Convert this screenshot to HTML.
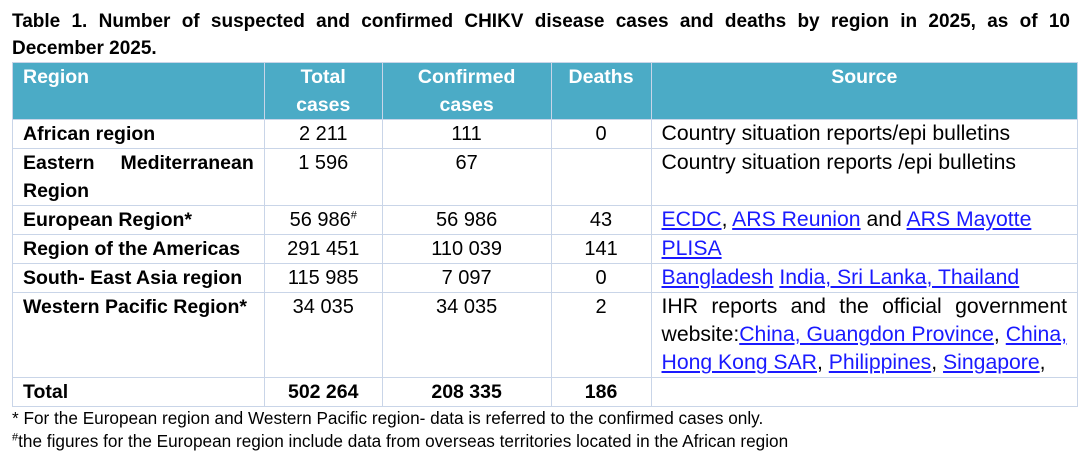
<!DOCTYPE html>
<html><head><meta charset="utf-8"><style>
body{margin:0;width:1088px;height:456px;background:#fff;font-family:"Liberation Sans",sans-serif;color:#000;position:relative;overflow:hidden}
.t{position:absolute;left:12px;width:1058px;font-weight:bold;font-size:19px;line-height:27px}
.t1{top:8px;text-align:justify;text-align-last:justify}
.t2{top:35px}
table{position:absolute;left:12px;top:62px;border-collapse:collapse;width:1066px;font-size:20px;line-height:28px}
td,th{border:1.5px solid #c9d5e8;padding:0 10px;vertical-align:top;box-sizing:border-box}
th{background:#4babc6;color:#fff;font-weight:bold;height:56px;font-size:19.5px}
th.l,td.l{text-align:left}
tr.s td{height:29px}
td{text-align:center}
td.b{font-weight:bold;text-align:left;font-size:19.5px}
td.src{font-size:21.2px;text-align:left}
.jl{display:block;text-align:justify;text-align-last:justify}
a{color:#1a1aff;text-decoration:underline}
.f{position:absolute;left:12px;font-size:17.2px}
sup{font-size:11px;line-height:0}
</style></head><body>
<div class="t t1">Table 1. Number of suspected and confirmed CHIKV disease cases and deaths by region in 2025, as of 10</div>
<div class="t t2">December 2025.</div>
<table>
<colgroup><col style="width:252px"><col style="width:118px"><col style="width:169px"><col style="width:100px"><col style="width:427px"></colgroup>
<tr><th class="l">Region</th><th>Total<br>cases</th><th>Confirmed<br>cases</th><th>Deaths</th><th>Source</th></tr>
<tr class="s"><td class="b">African region</td><td>2 211</td><td>111</td><td>0</td><td class="src">Country situation reports/epi bulletins</td></tr>
<tr><td class="b"><span class="jl">Eastern Mediterranean</span>Region</td><td>1 596</td><td>67</td><td></td><td class="src">Country situation reports /epi bulletins</td></tr>
<tr class="s"><td class="b">European Region*</td><td>56 986<sup>#</sup></td><td>56 986</td><td>43</td><td class="src"><a>ECDC</a>, <a>ARS Reunion</a> and <a>ARS Mayotte</a></td></tr>
<tr class="s"><td class="b">Region of the Americas</td><td>291 451</td><td>110 039</td><td>141</td><td class="src"><a>PLISA</a></td></tr>
<tr class="s"><td class="b">South- East Asia region</td><td>115 985</td><td>7 097</td><td>0</td><td class="src"><a>Bangladesh</a> <a>India, Sri Lanka, Thailand</a></td></tr>
<tr><td class="b">Western Pacific Region*</td><td>34 035</td><td>34 035</td><td>2</td><td class="src"><span class="jl">IHR reports and the official government</span><span class="jl">website:<a>China, Guangdon Province</a>, <a>China,</a></span><a>Hong&nbsp;Kong&nbsp;SAR</a>, <a>Philippines</a>, <a>Singapore</a>,</td></tr>
<tr class="s"><td class="b">Total</td><td style="font-weight:bold;font-size:19.5px">502 264</td><td style="font-weight:bold;font-size:19.5px">208 335</td><td style="font-weight:bold;font-size:19.5px">186</td><td></td></tr>
</table>
<div class="f" style="top:408px">* For the European region and Western Pacific region- data is referred to the confirmed cases only.</div>
<div class="f" style="top:431px"><sup>#</sup>the figures for the European region include data from overseas territories located in the African region</div>
</body></html>
